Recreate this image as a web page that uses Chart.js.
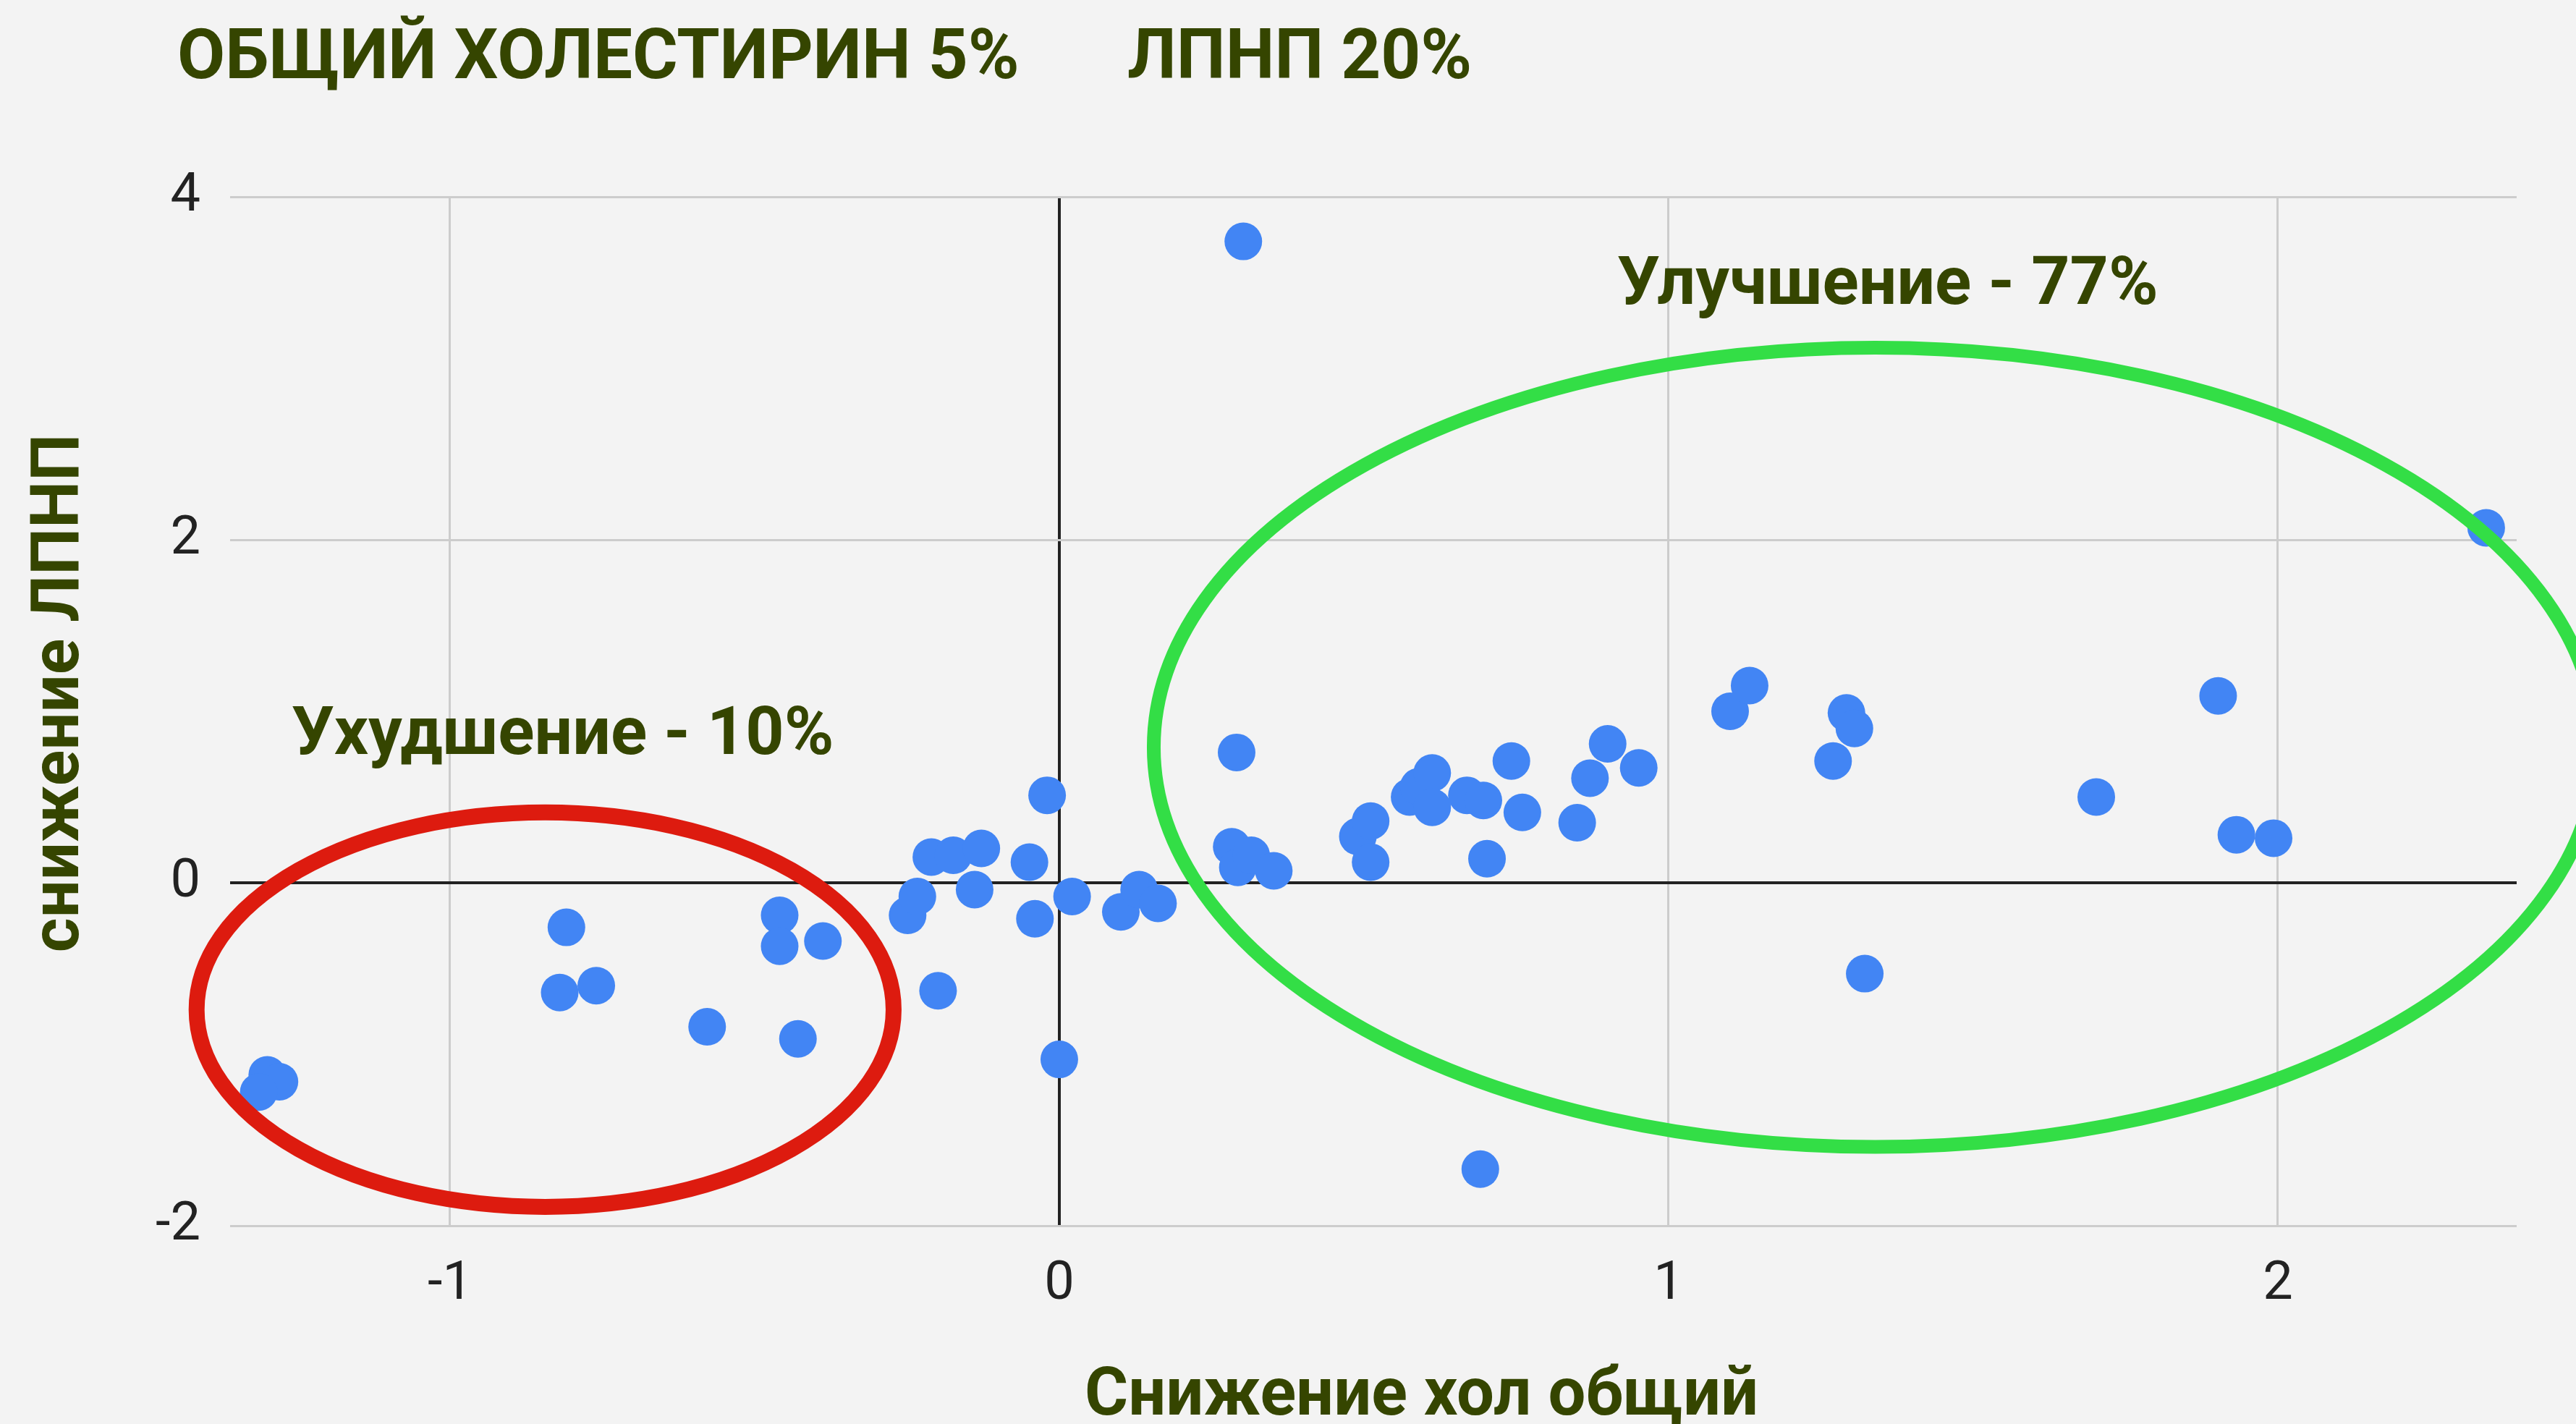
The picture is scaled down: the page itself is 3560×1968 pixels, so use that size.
<!DOCTYPE html>
<html>
<head>
<meta charset="utf-8">
<script src="https://cdn.jsdelivr.net/npm/chart.js@4.4.1/dist/chart.umd.min.js"></script>
<style>
  html, body { margin: 0; padding: 0; background: #f3f3f3; }
  #wrap { width: 3560px; height: 1968px; position: relative; }
</style>
</head>
<body>
<div id="wrap"><canvas id="chart"></canvas></div>
<script>
"use strict";

// снижение холестерина общего (x) и ЛПНП (y) по пациентам
var xValues = [
	-1.300, -1.280, -1.314, -0.809, -0.820, -0.760, -0.578, -0.459, -0.459, -0.388, -0.429,
	-0.249, -0.233, -0.210, -0.174, -0.128, -0.139, -0.199, -0.049, -0.040, -0.020, 0.000,
	0.021, 0.101, 0.131, 0.162,
	0.291, 0.283, 0.293, 0.315, 0.352, 0.302, 0.490, 0.511, 0.511, 0.575, 0.590, 0.612, 0.612,
	0.669, 0.696, 0.702, 0.742, 0.760, 0.850, 0.871, 0.900, 0.951, 0.691,
	1.101, 1.133, 1.270, 1.292, 1.305, 1.322, 1.702, 1.902, 1.932, 1.993, 2.342
];
var yValues = [
	-1.12, -1.16, -1.22, -0.26, -0.64, -0.60, -0.84, -0.19, -0.37, -0.34, -0.91,
	-0.19, -0.08, 0.15, 0.16, 0.20, -0.04, -0.63, 0.12, -0.21, 0.51, -1.03,
	-0.08, -0.17, -0.04, -0.12,
	0.76, 0.21, 0.09, 0.16, 0.07, 3.74, 0.27, 0.36, 0.12, 0.50, 0.56, 0.64, 0.44,
	0.51, 0.48, 0.14, 0.71, 0.41, 0.35, 0.61, 0.81, 0.67, -1.67,
	1.00, 1.15, 0.71, 0.99, 0.90, -0.53, 0.50, 1.09, 0.28, 0.26, 2.07
];
var xTicks = [-1, 0, 1, 2];
var yTicks = [-2, 0, 2, 4];

var textColor = "#354500";

// области на графике (в единицах осей)
var ellipses = [
	{ cx: -0.844, cy: -0.74, rx: 0.572, ry: 1.15, color: "#dd1b0f", width: 22 },
	{ cx: 1.339, cy: 0.79, rx: 1.184, ry: 2.33, color: "#33de46", width: 19 }
];

var points = xValues.map(function(x, i) {
	return { x: x, y: yValues[i] };
});

var annotations = {
	id: "annotations",
	afterDatasetsDraw: function(chart) {
		var ctx = chart.ctx;
		var sx = chart.scales.x;
		var sy = chart.scales.y;
		ctx.save();
		ellipses.forEach(function(e) {
			var cx = sx.getPixelForValue(e.cx);
			var cy = sy.getPixelForValue(e.cy);
			var rx = Math.abs(sx.getPixelForValue(e.cx + e.rx) - cx);
			var ry = Math.abs(sy.getPixelForValue(e.cy + e.ry) - cy);
			ctx.beginPath();
			ctx.ellipse(cx, cy, rx, ry, 0, 0, Math.PI * 2);
			ctx.strokeStyle = e.color;
			ctx.lineWidth = e.width;
			ctx.stroke();
		});
		ctx.restore();
	},
	afterDraw: function(chart) {
		var ctx = chart.ctx;
		ctx.save();
		ctx.fillStyle = textColor;
		ctx.textBaseline = "alphabetic";
		ctx.textAlign = "left";
		ctx.font = "bold 96px Roboto";
		ctx.fillText("ОБЩИЙ ХОЛЕСТИРИН 5%", 245, 108);
		ctx.fillText("ЛПНП 20%", 1558, 108);
		ctx.font = "bold 93px Roboto";
		ctx.fillText("Ухудшение - 10%", 403, 1042);
		ctx.fillText("Улучшение - 77%", 2235, 420);
		ctx.font = "bold 92px Roboto";
		ctx.fillText("Снижение хол общий", 1499, 1955);
		ctx.translate(108, 958);
		ctx.rotate(-Math.PI / 2);
		ctx.textAlign = "center";
		ctx.fillText("снижение ЛПНП", 0, 0);
		ctx.restore();
	}
};

function gridColor(c) {
	return c.tick && c.tick.value === 0 ? "#222222" : "#cccccc";
}
function gridWidth(c) {
	return c.tick && c.tick.value === 0 ? 4 : 3;
}

new Chart(document.getElementById("chart"), {
	type: "scatter",
	data: {
		datasets: [{
			data: points,
			backgroundColor: "#4285f4",
			borderColor: "#4285f4",
			borderWidth: 0,
			pointRadius: 26,
			pointHoverRadius: 26
		}]
	},
	options: {
		responsive: true,
		maintainAspectRatio: false,
		animation: false,
		devicePixelRatio: 1,
		layout: {
			autoPadding: false,
			padding: { left: 0, right: 82, top: 272, bottom: 0 }
		},
		plugins: {
			legend: { display: false },
			title: { display: false },
			tooltip: { enabled: false }
		},
		scales: {
			x: {
				type: "linear",
				min: -1.361,
				max: 2.392,
				afterBuildTicks: function(scale) {
					scale.ticks = xTicks.map(function(v) { return { value: v }; });
				},
				afterFit: function(scale) {
					scale.height = 274;
				},
				border: { display: false },
				grid: { color: gridColor, lineWidth: gridWidth, drawTicks: false },
				ticks: {
					padding: 38,
					color: "#222222",
					font: { family: "Roboto", size: 74 },
					maxRotation: 0
				}
			},
			y: {
				type: "linear",
				min: -2,
				max: 4,
				afterBuildTicks: function(scale) {
					scale.ticks = yTicks.map(function(v) { return { value: v }; });
				},
				afterFit: function(scale) {
					scale.width = 318;
				},
				border: { display: false },
				grid: { color: gridColor, lineWidth: gridWidth, drawTicks: false },
				ticks: {
					padding: 41,
					color: "#222222",
					font: { family: "Roboto", size: 74 }
				}
			}
		}
	},
	plugins: [annotations]
});
</script>
</body>
</html>
